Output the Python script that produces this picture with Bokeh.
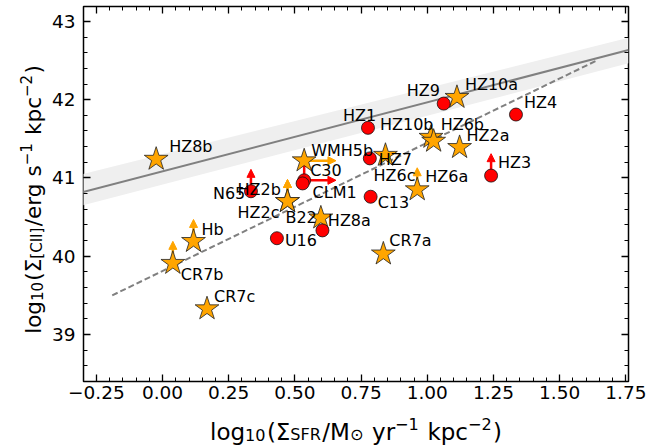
import math
from bokeh.plotting import figure
from bokeh.layouts import row, column
from bokeh.models import (Range1d, ColumnDataSource, LinearAxis, SingleIntervalTicker,
                          CustomJSTickFormatter, Arrow, NormalHead)
from bokeh.core.properties import value
from bokeh.embed import file_html
from bokeh.resources import INLINE

# ---------------- data ----------------
# clumps (orange stars)
star_names = ["HZ8b", "HZ10a", "HZ10b", "HZ6b", "HZ2a", "WMH5b", "HZ6c", "HZ6a",
              "HZ2b", "HZ2c", "HZ8a", "Hb", "CR7b", "CR7c", "CR7a"]
star_x = [-0.024, 1.112, 1.014, 1.024, 1.122, 0.535, 0.842, 0.962,
          0.472, 0.472, 0.598, 0.117, 0.039, 0.168, 0.834]
star_y = [41.24, 42.03, 41.52, 41.47, 41.39, 41.22, 41.29, 40.85,
          40.70, 40.70, 40.49, 40.19, 39.91, 39.33, 40.03]
star_up = [0, 0, 0, 0, 0, 0, 0, 1, 1, 1, 0, 1, 1, 0, 0]
star_right = [0, 0, 0, 0, 0, 1, 0, 0, 0, 0, 0, 0, 0, 0, 0]

# galaxies (red circles)
gal_names = ["HZ1", "HZ9", "HZ4", "HZ3", "HZ7", "C13", "C30", "CLM1", "N65", "U16", "B22"]
gal_x = [0.776, 1.062, 1.335, 1.241, 0.783, 0.786, 0.535, 0.529, 0.334, 0.432, 0.604]
gal_y = [41.64, 41.95, 41.81, 41.03, 41.25, 40.76, 40.97, 40.93, 40.83, 40.23, 40.33]
gal_up = [0, 0, 0, 1, 0, 0, 1, 0, 1, 0, 0]
gal_right = [0, 0, 0, 0, 0, 0, 1, 0, 0, 0, 0]

# local relation (solid) with its band, and fit (dashed)
rel_x = [-0.30, 1.76]
rel_mid = [40.82, 42.635]
rel_lo = [40.65, 42.465]
rel_hi = [41.05, 42.79]
fit_x = [-0.19, 1.64]
fit_y = [39.50, 42.50]

# axis titles: (text, kind) kind 0 normal, -1 subscript, 1 superscript
xtitle_runs = [("log", 0), ("10", -1), ("(\u03a3", 0), ("SFR", -1), ("/M", 0), ("\u2299", -1),
               (" yr", 0), ("\u22121", 1), (" kpc", 0), ("\u22122", 1), (")", 0)]
ytitle_runs = [("log", 0), ("10", -1), ("(\u03a3", 0), ("[CII]", -1), ("/erg", 0), (" s", 0),
               ("\u22121", 1), (" kpc", 0), ("\u22122", 1), (")", 0)]

# label offsets in pixels (style): (dx right, dy down)
star_lab_off = [(13, -13), (8, -13), (-51, -13), (7, -17), (7, -12), (7, -10), (-12, 20), (8, -13),
                (-50, -12), (-50, 11), (7, 3), (8, -12), (8, 11), (7, -12), (6, -13)]
gal_lab_off = [(-25, -12), (-37, -13), (8, -12), (7, -13), (9, 1), (7, 6), (6, -10), (10, 9),
               (-38, 2), (8, 2), (-37, -13)]

XR = (-0.2985, 1.76)
YR = (38.40, 43.19)
ARROW_UP = 0.28
ARROW_RIGHT = 0.12
FONT = "DejaVu Sans"

# layout geometry (pixels)
TOTAL_W, TOTAL_H = 656, 445
YT_W = 48             # width of the strip holding the y title
P_W = TOTAL_W - YT_W
P_H = 407             # height of the main plot
XT_H = TOTAL_H - P_H  # strip holding the x title
FRAME_L, FRAME_R, FRAME_T, FRAME_B = 82, 628, 6, 381

p = figure(width=P_W, height=P_H, x_range=Range1d(*XR), y_range=Range1d(*YR),
           output_backend="svg", toolbar_location=None,
           min_border_left=FRAME_L - YT_W, min_border_right=TOTAL_W - FRAME_R,
           min_border_top=FRAME_T, min_border_bottom=P_H - FRAME_B)
p.background_fill_color = "white"
p.border_fill_color = "white"
p.xgrid.visible = False
p.ygrid.visible = False
p.outline_line_color = "black"
p.outline_line_width = 1.5

xfmt = CustomJSTickFormatter(code="return (tick < -1e-9 ? '\u2212' : '') + Math.abs(tick).toFixed(2);")
yfmt = CustomJSTickFormatter(code="return tick.toFixed(0);")
blank = CustomJSTickFormatter(code="return '';")


def style_axis(ax, fmt, show):
    ax.formatter = fmt
    ax.axis_line_color = None
    ax.major_tick_in = 7
    ax.major_tick_out = 0
    ax.minor_tick_in = 4
    ax.minor_tick_out = 0
    ax.major_tick_line_color = "black"
    ax.minor_tick_line_color = "black"
    ax.major_tick_line_width = 1.3
    ax.minor_tick_line_width = 1.0
    ax.major_label_text_font = FONT
    ax.major_label_text_color = "black"
    if show:
        ax.major_label_text_font_size = "18.5px"
        ax.major_label_standoff = 8
    else:
        ax.major_label_text_font_size = "0px"
        ax.major_label_standoff = 0


xb = p.xaxis[0]
yl = p.yaxis[0]
xb.ticker = SingleIntervalTicker(interval=0.25, num_minor_ticks=5)
yl.ticker = SingleIntervalTicker(interval=1, num_minor_ticks=5)
style_axis(xb, xfmt, True)
style_axis(yl, yfmt, True)
xb.major_label_standoff = 4

xt_ax = LinearAxis(ticker=SingleIntervalTicker(interval=0.25, num_minor_ticks=5))
yr_ax = LinearAxis(ticker=SingleIntervalTicker(interval=1, num_minor_ticks=5))
style_axis(xt_ax, blank, False)
style_axis(yr_ax, blank, False)
p.add_layout(xt_ax, "above")
p.add_layout(yr_ax, "right")

# band and lines
p.varea(x=rel_x, y1=rel_lo, y2=rel_hi, fill_color="#efefef")
p.line(rel_x, rel_mid, line_color="#808080", line_width=2)
p.line(fit_x, fit_y, line_color="#808080", line_width=2, line_dash="6 3")


# limit arrows
def add_arrows(xs, ys, ups, rights, color):
    x0, y0, x1, y1 = [], [], [], []
    for x, y, u, r in zip(xs, ys, ups, rights):
        if u:
            x0.append(x); y0.append(y); x1.append(x); y1.append(y + ARROW_UP)
        if r:
            x0.append(x); y0.append(y); x1.append(x + ARROW_RIGHT); y1.append(y)
    src = ColumnDataSource(dict(x0=x0, y0=y0, x1=x1, y1=y1))
    arr = Arrow(end=NormalHead(size=8, fill_color=color, line_color=color, line_width=1),
                x_start="x0", y_start="y0", x_end="x1", y_end="y1", source=src,
                line_color=color, line_width=2.5, level="underlay")
    p.add_layout(arr)


add_arrows(gal_x, gal_y, gal_up, gal_right, "red")
add_arrows(star_x, star_y, star_up, star_right, "orange")

star_src = ColumnDataSource(dict(x=star_x, y=star_y, name=star_names,
                                 dx=[o[0] for o in star_lab_off], dy=[o[1] for o in star_lab_off]))
gal_src = ColumnDataSource(dict(x=gal_x, y=gal_y, name=gal_names,
                                dx=[o[0] for o in gal_lab_off], dy=[o[1] for o in gal_lab_off]))

p.scatter("x", "y", source=star_src, marker="star", size=25, fill_color="orange",
          line_color="#222222", line_width=0.8)
p.scatter("x", "y", source=gal_src, marker="circle", size=13, fill_color="red",
          line_color="#111111", line_width=0.8)

for src in (star_src, gal_src):
    p.text("x", "y", text="name", source=src, x_offset="dx", y_offset="dy",
           text_font=value(FONT), text_font_size=value("16px"), text_color="black",
           text_align="left", text_baseline="middle")


# ---------------- axis titles in their own strips (rich text made of runs) ----------------
def strip(w, h, xr, yr, bl, br):
    f = figure(width=w, height=h, x_range=Range1d(*xr), y_range=Range1d(*yr),
               output_backend="svg", toolbar_location=None,
               x_axis_location=None, y_axis_location=None,
               min_border=0, min_border_left=bl, min_border_right=br,
               min_border_top=0, min_border_bottom=0)
    f.outline_line_color = None
    f.background_fill_color = "white"
    f.border_fill_color = "white"
    for g in f.grid:
        g.visible = False
    return f


CW = {' ': 0.3179, '(': 0.3901, ')': 0.3901, '/': 0.3369, '0': 0.6362, '1': 0.6362, '2': 0.6362,
      'C': 0.6982, 'F': 0.5752, 'I': 0.2949, 'M': 0.8628, 'R': 0.6948, 'S': 0.6348, '[': 0.3901,
      ']': 0.3901, 'c': 0.5498, 'e': 0.6152, 'g': 0.6348, 'k': 0.5791, 'l': 0.2778, 'o': 0.6118,
      'p': 0.6348, 'r': 0.4111, 's': 0.5210, 'y': 0.5918, '\u03a3': 0.6318, '\u2212': 0.8379,
      '\u2299': 0.8379}


def tw(s, size):
    return sum(CW.get(c, 0.6) for c in s) * size


def runs_layout(runs, F, sub_drop, sup_rise):
    out = []
    cum = 0.0
    for t, k in runs:
        size = F * 0.7 if k else F
        shift = {0: 0.0, -1: -sub_drop * F, 1: sup_rise * F}[k]
        lead = len(t) - len(t.lstrip(" "))
        cum += lead * CW[" "] * size          # leading spaces become an advance
        t = t.lstrip(" ")
        out.append((t, size, shift, cum))
        cum += tw(t, size) + (0.06 * F if k else 0.0)
    return out, cum


# x title: strip whose frame lines up with the main frame; data units = page pixels
TF = 23
xs = strip(P_W, XT_H, (FRAME_L, FRAME_R), (0, XT_H), FRAME_L - YT_W, TOTAL_W - FRAME_R)
# y data in this strip: 0 at page bottom (445), XT_H at the strip's top
lay, total = runs_layout(xtitle_runs, TF, 0.15, 0.34)
cx = (FRAME_L + FRAME_R) / 2
base = TOTAL_H - 431
xs.text(x=[cx - total / 2 + c for (_, _, _, c) in lay],
        y=[base + s for (_, _, s, _) in lay],
        text=[t for (t, _, _, _) in lay],
        text_font_size=[f"{sz:.1f}px" for (_, sz, _, _) in lay],
        text_font=value(FONT), text_color="black", text_align="left", text_baseline="alphabetic")

# y title: rotated, baseline at page x 33, centred at page y 199
TFY = 21.5
ys = strip(YT_W, TOTAL_H, (0, YT_W), (0, TOTAL_H), 0, 0)
lay, total = runs_layout(ytitle_runs, TFY, 0.15, 0.34)
cy = TOTAL_H - 199
ys.text(x=[33 - s for (_, _, s, _) in lay],
        y=[cy - total / 2 + c for (_, _, _, c) in lay],
        text=[t for (t, _, _, _) in lay],
        text_font_size=[f"{sz:.1f}px" for (_, sz, _, _) in lay],
        angle=math.pi / 2,
        text_font=value(FONT), text_color="black", text_align="left", text_baseline="alphabetic")

layout = row(ys, column(p, xs, spacing=0), spacing=0)

open("out.html", "w").write(file_html(layout, INLINE))
